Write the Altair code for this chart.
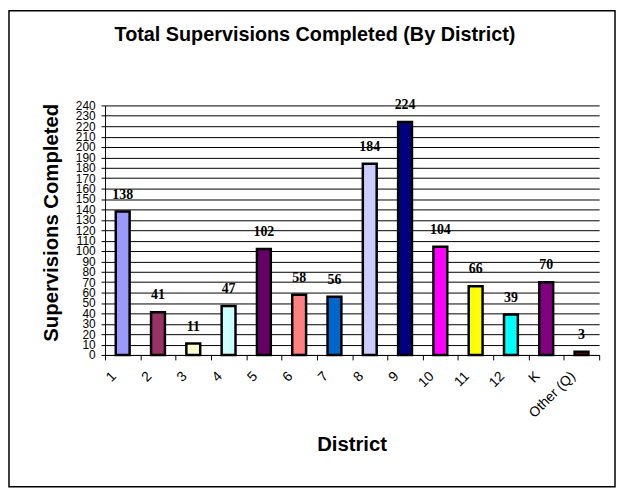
import altair as alt
import pandas as pd

districts = ["1", "2", "3", "4", "5", "6", "7", "8", "9", "10", "11", "12", "K", "Other (Q)"]
values = [138, 41, 11, 47, 102, 58, 56, 184, 224, 104, 66, 39, 70, 3]
colors = ["#9999FF", "#993366", "#FFFFCC", "#CCFFFF", "#660066", "#FF8080", "#0066CC",
          "#CCCCFF", "#000080", "#FF00FF", "#FFFF00", "#00FFFF", "#800080", "#800000"]
y_ticks = list(range(0, 241, 10))
title_text = "Total Supervisions Completed (By District)"

df = pd.DataFrame({"District": districts, "Value": values})

W, H = 499, 252

x_enc = alt.X("District:N", sort=districts,
              scale=alt.Scale(paddingInner=0, paddingOuter=0),
              axis=alt.Axis(title="District", labelAngle=315, labelAlign="right",
                            labelBaseline="middle", labelOffset=-9, labelPadding=14,
                            labelFont="Liberation Sans", labelFontSize=14, labelColor="black",
                            tickBand="extent", tickSize=5, tickColor="black", domainColor="black",
                            titleFont="Liberation Sans", titleFontSize=20.5, titleFontWeight="bold",
                            titleColor="black", titleX=249, titleY=90, titleAlign="center",
                            titleBaseline="middle"))
y_enc = alt.Y("Value:Q", scale=alt.Scale(domain=[0, 240], nice=False),
              axis=alt.Axis(title="Supervisions Completed", values=y_ticks, grid=True,
                            gridColor="black", gridWidth=1, gridOpacity=1,
                            labelFont="Liberation Sans", labelFontSize=12, labelColor="black",
                            labelPadding=6, tickSize=4, tickColor="black", domainColor="black",
                            labelOverlap=False, labelBound=False, labelFlush=False,
                            titleFont="Liberation Sans", titleFontSize=20.5, titleFontWeight="bold",
                            titleColor="black", titleX=-54, titleY=118, titleAlign="center",
                            titleBaseline="middle", titleAngle=270))

bars = alt.Chart(df).mark_bar(size=14, stroke="black", strokeWidth=2.5).encode(
    x=x_enc, y=y_enc,
    color=alt.Color("District:N", scale=alt.Scale(domain=districts, range=colors), legend=None),
)

labels = alt.Chart(df).mark_text(font="Liberation Serif", fontSize=14, fontWeight="bold",
                                 baseline="alphabetic", dy=-13, color="black").encode(
    x=x_enc, y=y_enc, text="Value:Q")

deco = pd.DataFrame({"t": [title_text]})
frame = alt.Chart(deco).mark_rect(fill=None, stroke="black", strokeWidth=1.5).encode(
    x=alt.value(-97), x2=alt.value(515), y=alt.value(-95.5), y2=alt.value(385))

title = alt.Chart(deco).mark_text(font="Liberation Sans", fontSize=20, fontWeight="bold",
                                  color="black", align="center", baseline="middle").encode(
    x=alt.value(212), y=alt.value(-71), text="t:N")

chart = alt.layer(bars, labels, frame, title).properties(
    width=W, height=H,
    autosize=alt.AutoSizeParams(type="none"),
    padding={"left": 98, "top": 96, "right": 17, "bottom": 136},
    background="white",
).configure_view(stroke=None)

chart.save("out.html", embed_options={"renderer": "svg", "actions": False})
